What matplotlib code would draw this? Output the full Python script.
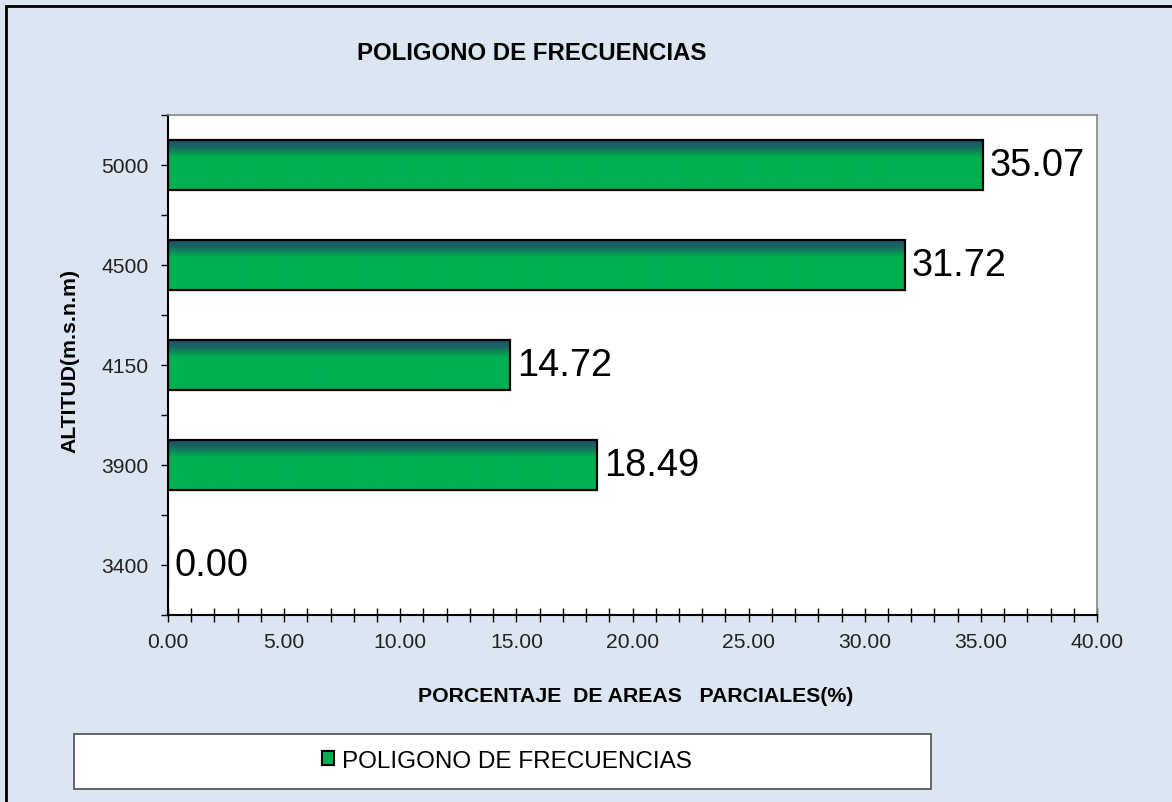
import matplotlib
matplotlib.use("Agg")
import matplotlib.pyplot as plt
import numpy as np
from matplotlib.colors import LinearSegmentedColormap
from matplotlib.patches import Rectangle, Patch
from matplotlib.ticker import MultipleLocator, FixedLocator

# ---- data ----
categories = ["3400", "3900", "4150", "4500", "5000"]
values = [0.00, 18.49, 14.72, 31.72, 35.07]
series_name = "POLIGONO DE FRECUENCIAS"
title = "POLIGONO DE FRECUENCIAS"
xlabel = "PORCENTAJE  DE AREAS   PARCIALES(%)"
ylabel = "ALTITUD(m.s.n.m)"

plt.rcParams["font.family"] = ["Liberation Sans", "DejaVu Sans"]

W, H = 1172, 803
fig = plt.figure(figsize=(W / 100, H / 100), dpi=100)
fig.patch.set_facecolor("#dce6f2")

# outer chart border
fig.patches.append(Rectangle((6 / W, -0.1), 1.2, 1 - 7 / H + 0.1,
                             transform=fig.transFigure, fill=False,
                             edgecolor="black", linewidth=2, zorder=0))

ax = fig.add_axes([168 / W, 1 - 616 / H, 929 / W, 500 / H])
ax.set_facecolor("white")

green = "#00b050"
pos = np.arange(len(categories))
bars = ax.barh(pos, values, height=0.5, color=green, edgecolor="none", zorder=2)

cmap = LinearSegmentedColormap.from_list(
    "g", [(0.0, "#1d4f72"), (0.14, "#17695f"), (0.34, green), (1.0, green)])
grad = np.linspace(0, 1, 200).reshape(-1, 1)
for b in bars:
    if b.get_width() <= 0:
        continue
    x0, y0, w, h = b.get_x(), b.get_y(), b.get_width(), b.get_height()
    im = ax.imshow(grad, extent=(x0, x0 + w, y0, y0 + h), origin="upper",
                   cmap=cmap, aspect="auto", zorder=2.5, interpolation="bilinear")
    im.set_clip_path(b)

edges = ax.barh(pos, values, height=0.5, fill=False, edgecolor="black",
                linewidth=1.6, zorder=3)

ax.bar_label(bars, labels=[f"{v:.2f}" for v in values], padding=5,
             fontsize=27.4, color="black")

ax.set_xlim(0, 40)
ax.set_ylim(-0.5, len(categories) - 0.5)
ax.xaxis.set_major_locator(MultipleLocator(5))
ax.xaxis.set_minor_locator(MultipleLocator(1))
ax.xaxis.set_major_formatter(matplotlib.ticker.FormatStrFormatter("%.2f"))
ax.set_yticks(pos)
ax.set_yticklabels(categories)
ax.yaxis.set_minor_locator(FixedLocator(np.arange(-0.5, len(categories), 1.0)))

ax.tick_params(axis="x", which="both", direction="inout", length=10, width=1,
               color="black", labelsize=15.2, labelcolor="#222222", pad=7)
ax.tick_params(axis="y", which="both", direction="out", length=5, width=1,
               color="black", labelsize=15.2, labelcolor="#222222", pad=9)

for s in ["left", "bottom"]:
    ax.spines[s].set_color("black")
    ax.spines[s].set_linewidth(1.5)
for s in ["top", "right"]:
    ax.spines[s].set_color("#868686")
    ax.spines[s].set_linewidth(1.2)

fig.text(532 / W, 1 - 54 / H, title, ha="center", va="center",
         fontsize=17.3, fontweight="bold")
fig.text(636 / W, 1 - 697 / H, xlabel, ha="center", va="center",
         fontsize=15.3, fontweight="bold")
fig.text(70 / W, 1 - 361 / H, ylabel, ha="center", va="center",
         rotation=90, fontsize=15.3, fontweight="bold")

# legend box
fig.patches.append(Rectangle((74 / W, 1 - 790 / H), (931 - 74) / W, 55 / H,
                             transform=fig.transFigure, facecolor="white",
                             edgecolor="#595959", linewidth=1.3, zorder=1))
handle = Patch(facecolor=green, edgecolor="black", linewidth=1.5, label=series_name)
leg = fig.legend(handles=[handle], loc="center", bbox_to_anchor=(507 / W, 1 - 762 / H),
                 frameon=False, fontsize=17.5, handlelength=0.5, handleheight=0.5,
                 handletextpad=0.35, borderpad=0)
leg.set_zorder(2)

fig.savefig("out.png", dpi=100, facecolor=fig.get_facecolor())
